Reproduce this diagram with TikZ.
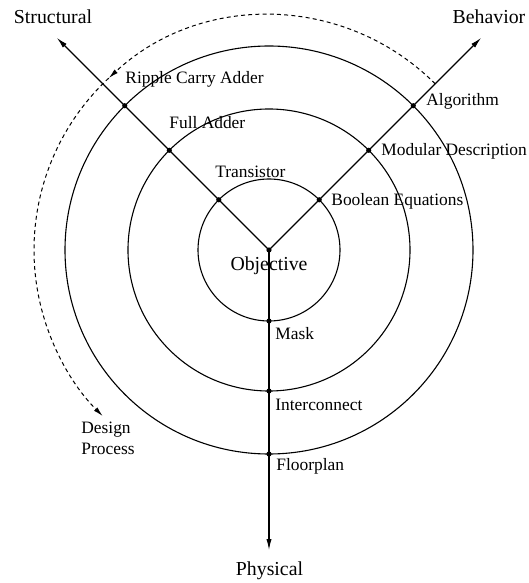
\documentclass[tikz,border=0pt]{standalone}
\usepackage{fontspec}
\setmainfont{Liberation Serif}
\usetikzlibrary{arrows.meta}
\begin{document}
\begin{tikzpicture}[x=0.5pt,y=0.5pt,
  ring/.style={line width=0.55pt},
  axis/.style={line width=0.55pt,-{Latex[length=5.5pt,width=2.6pt]}},
  dot/.style={circle,fill,inner sep=0pt,minimum size=2.6pt},
  lbl/.style={inner sep=0pt,anchor=west,font=\fontsize{8.7}{10.4}\selectfont},
  title/.style={inner sep=0pt,font=\fontsize{9.9}{11.9}\selectfont},
  flow/.style={line width=0.5pt,dash pattern=on 2pt off 1.6pt,-{Latex[length=5pt,width=2.4pt]}}]
\useasboundingbox (-269,-333) rectangle (260,250);

% abstraction levels
\foreach \r in {71,141,204}
  \draw[ring] (0,0) circle[radius=\r];

% the three domain axes
\coordinate (O) at (0,0);
\coordinate (S) at (135:300);
\coordinate (B) at (45:300);
\coordinate (P) at (270:300);
\draw[axis] (O) -- (S);
\draw[axis] (O) -- (B);
\draw[axis] (O) -- (P);

% intersections of axes and levels
\node[dot] (c) at (O) {};
\foreach \r/\n in {71/1,141/2,204/3} {
  \node[dot] (s\n) at (135:\r) {};
  \node[dot] (b\n) at (45:\r) {};
  \node[dot] (p\n) at (270:\r) {};
}

% design process arrow, with a second head where it meets the structural axis
\coordinate (f1) at (45:235);
\coordinate (fm) at (133:235);
\coordinate (f2) at (225:235);
\draw[flow] (f1) arc[start angle=45,end angle=133,radius=235];
\draw[flow] (fm) arc[start angle=133,end angle=225,radius=235];

% domain titles
\node[title] (tS) at (-216,233) {Structural};
\node[title] (tB) at (220,233) {Behavior};
\node[title] (tP) at (0.5,-321) {Physical};
\node[title] (tO) at (0,-16) {Objective};

% structural domain
\node[lbl] (lS1) at (-54,78) {Transistor};
\node[lbl] (lS2) at (-100,127) {Full Adder};
\node[lbl] (lS3) at (-144,171) {Ripple Carry Adder};

% behavioural domain
\node[lbl] (lB1) at (62,49) {Boolean Equations};
\node[lbl] (lB2) at (112,99) {Modular Description};
\node[lbl] (lB3) at (157,149) {Algorithm};

% physical domain
\node[lbl] (lP1) at (6,-84) {Mask};
\node[lbl] (lP2) at (6,-155) {Interconnect};
\node[lbl] (lP3) at (7,-216) {Floorplan};

\node[lbl,align=left] (lD) at (-188,-188) {Design\\Process};
\end{tikzpicture}
\end{document}
